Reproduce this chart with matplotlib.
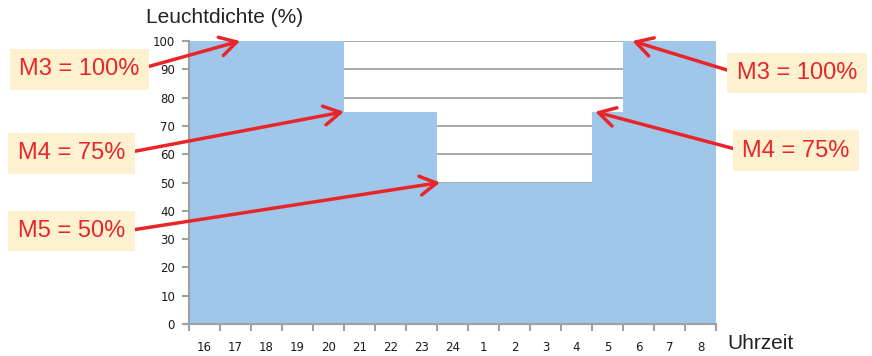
import numpy as np
import matplotlib
matplotlib.use('Agg')
import matplotlib.pyplot as plt

plt.rcParams['font.family'] = ['Liberation Sans', 'DejaVu Sans']

hours = ['16', '17', '18', '19', '20', '21', '22', '23', '24',
         '1', '2', '3', '4', '5', '6', '7', '8']
level = [100, 100, 100, 100, 100, 75, 75, 75, 50,
         50, 50, 50, 50, 75, 100, 100, 100]

# annotation: text, arrow tip (bin position, value), text centre (figure fraction), side
notes = [
    ('M3 = 100%', (1.65, 100), (0.091, 0.806), 'left'),
    ('M4 = 75%', (5.0, 75), (0.082, 0.570), 'left'),
    ('M5 = 50%', (8.1, 50), (0.082, 0.351), 'left'),
    ('M3 = 100%', (14.3, 100), (0.914, 0.795), 'right'),
    ('M4 = 75%', (13.1, 75), (0.913, 0.576), 'right'),
]

fig = plt.figure(figsize=(8.72, 3.56), dpi=100)
ax = fig.add_axes([0.2167, 0.0899, 0.6044, 0.7949])

edges = np.arange(len(hours) + 1)
ax.stairs(level, edges, fill=True, color='#a0c6e9', zorder=2)

ax.set_xlim(0, len(hours))
ax.set_ylim(0, 100)
ax.set_yticks(range(0, 101, 10))
ax.yaxis.grid(True, color='#999999', lw=1.2, zorder=1)
ax.set_axisbelow(True)

ax.set_xticks(edges)
ax.set_xticklabels([])
ax.set_xticks(edges[:-1] + 0.5, minor=True)
ax.set_xticklabels(hours, minor=True)
ax.tick_params(axis='x', which='minor', length=0, pad=12)
ax.tick_params(axis='x', which='major', length=5, width=1.5, color='#a0a0a0')
ax.tick_params(axis='y', length=5, width=1.5, color='#a0a0a0', pad=5)
for lab in ax.get_xticklabels(minor=True) + ax.get_yticklabels():
    lab.set_fontsize(8.5)
    lab.set_color('#1a1a1a')
    lab.set_family('DejaVu Sans')

for s in ['top', 'right']:
    ax.spines[s].set_visible(False)
for s in ['left', 'bottom']:
    ax.spines[s].set_color('#a0a0a0')
    ax.spines[s].set_linewidth(1.5)
    ax.spines[s].set_zorder(3)

fig.text(0.168, 0.95, 'Leuchtdichte (%)', fontsize=15, color='#222222',
         ha='left', va='center')
fig.text(0.834, 0.035, 'Uhrzeit', fontsize=15, color='#222222',
         ha='left', va='center')

for txt, tip, pos, side in notes:
    rel = (1, 0.5) if side == 'left' else (0, 0.5)
    ax.annotate(txt, xy=tip, xycoords='data', xytext=pos,
                textcoords='figure fraction', ha='center', va='center',
                fontsize=17, color='#e8262a', annotation_clip=False,
                bbox=dict(boxstyle='square,pad=0.4', fc='#fdf1d0', ec='none'),
                arrowprops=dict(arrowstyle='->,head_length=0.7,head_width=0.4',
                                color='#e8262a', lw=2.5, relpos=rel,
                                shrinkA=0, shrinkB=0),
                zorder=5)

fig.savefig('out.png', dpi=100)
